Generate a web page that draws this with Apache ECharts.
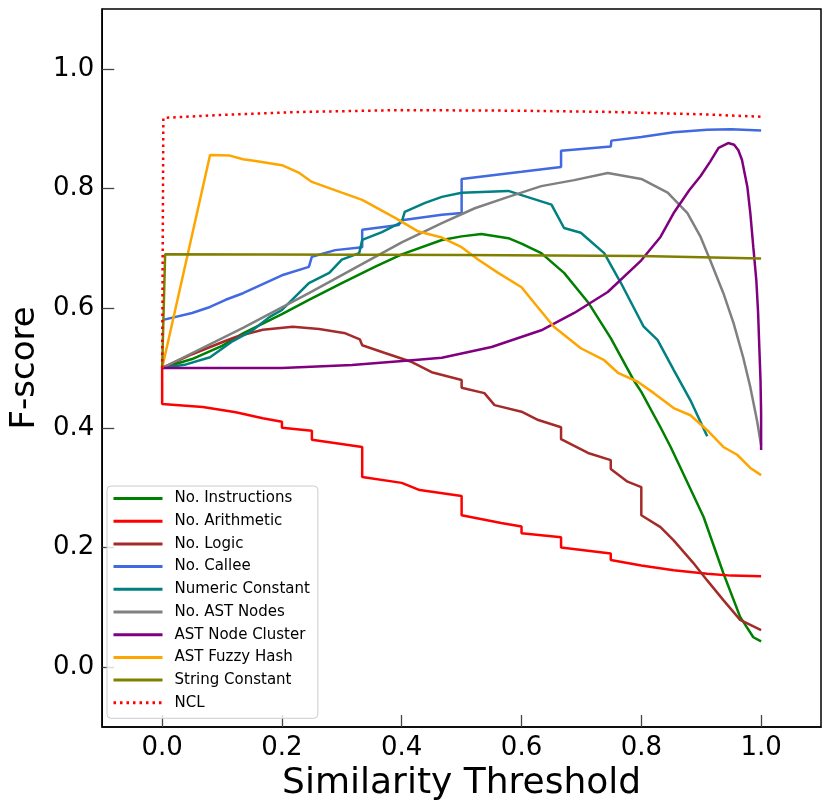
<!DOCTYPE html>
<html>
<head>
<meta charset="utf-8">
<script src="https://cdn.jsdelivr.net/npm/echarts@6/dist/echarts.min.js"></script>
<style>
  html, body { margin: 0; padding: 0; background: #fff; }
  #chart { width: 830px; height: 808px; }
</style>
</head>
<body>
<div id="chart"></div>
<script>
// [threshold, F-score]
const instructions = [[0,0.5],[0.05,0.515],[0.1,0.537],[0.135,0.558],[0.2,0.59],[0.245,0.614],[0.3,0.642],[0.355,0.669],[0.4,0.69],[0.467,0.714],[0.5,0.72],[0.533,0.724],[0.578,0.717],[0.6,0.708],[0.633,0.692],[0.671,0.659],[0.711,0.61],[0.749,0.55],[0.787,0.48],[0.8,0.46],[0.832,0.401],[0.849,0.368],[0.865,0.334],[0.904,0.251],[0.937,0.157],[0.965,0.084],[0.987,0.05],[1.0,0.043]];
const arithmetic = [[0,0.5],[0,0.44],[0.068,0.435],[0.123,0.426],[0.168,0.416],[0.2,0.41],[0.2,0.4],[0.25,0.395],[0.25,0.38],[0.334,0.368],[0.334,0.318],[0.4,0.308],[0.43,0.296],[0.5,0.286],[0.5,0.254],[0.566,0.241],[0.6,0.235],[0.6,0.224],[0.666,0.217],[0.666,0.2],[0.749,0.19],[0.749,0.179],[0.8,0.17],[0.854,0.162],[0.91,0.156],[0.95,0.153],[1.0,0.152]];
const logic = [[0,0.5],[0.05,0.523],[0.1,0.543],[0.123,0.552],[0.168,0.564],[0.218,0.569],[0.262,0.565],[0.306,0.558],[0.33,0.548],[0.334,0.538],[0.372,0.525],[0.417,0.51],[0.45,0.493],[0.5,0.48],[0.5,0.467],[0.538,0.458],[0.555,0.438],[0.6,0.427],[0.628,0.413],[0.666,0.401],[0.666,0.381],[0.711,0.358],[0.749,0.346],[0.749,0.331],[0.777,0.31],[0.8,0.301],[0.8,0.254],[0.832,0.234],[0.854,0.212],[0.887,0.174],[0.91,0.145],[0.937,0.112],[0.965,0.079],[1.0,0.062]];
const callee = [[0,0.58],[0.05,0.592],[0.08,0.602],[0.106,0.614],[0.135,0.625],[0.168,0.64],[0.2,0.655],[0.245,0.669],[0.25,0.686],[0.289,0.697],[0.334,0.702],[0.334,0.731],[0.395,0.739],[0.4,0.747],[0.467,0.756],[0.5,0.759],[0.5,0.816],[0.6,0.828],[0.666,0.836],[0.666,0.863],[0.749,0.87],[0.75,0.88],[0.8,0.886],[0.854,0.894],[0.91,0.898],[0.95,0.899],[1.0,0.897]];
const numericConst = [[0,0.5],[0.04,0.506],[0.08,0.518],[0.118,0.545],[0.151,0.563],[0.179,0.585],[0.2,0.597],[0.245,0.642],[0.279,0.659],[0.3,0.681],[0.329,0.692],[0.334,0.714],[0.367,0.727],[0.4,0.744],[0.405,0.761],[0.439,0.776],[0.467,0.786],[0.5,0.793],[0.578,0.796],[0.6,0.789],[0.65,0.773],[0.671,0.734],[0.699,0.726],[0.738,0.692],[0.766,0.642],[0.804,0.569],[0.827,0.547],[0.854,0.497],[0.882,0.446],[0.91,0.386]];
const astNodes = [[0,0.5],[0.135,0.567],[0.245,0.625],[0.4,0.71],[0.467,0.742],[0.522,0.767],[0.578,0.786],[0.633,0.804],[0.688,0.814],[0.744,0.826],[0.8,0.816],[0.844,0.793],[0.877,0.759],[0.899,0.719],[0.915,0.68],[0.937,0.625],[0.954,0.575],[0.97,0.518],[0.982,0.468],[0.993,0.413],[1.0,0.371]];
const nodeCluster = [[0,0.5],[0.1,0.5],[0.2,0.5],[0.317,0.505],[0.417,0.513],[0.467,0.517],[0.55,0.535],[0.633,0.563],[0.688,0.592],[0.744,0.627],[0.8,0.68],[0.832,0.719],[0.854,0.759],[0.88,0.797],[0.899,0.821],[0.915,0.845],[0.929,0.868],[0.945,0.876],[0.955,0.873],[0.962,0.864],[0.968,0.848],[0.977,0.803],[0.982,0.759],[0.987,0.702],[0.992,0.647],[0.995,0.592],[0.997,0.535],[0.999,0.48],[1.0,0.425],[1.0,0.363]];
const fuzzyHash = [[0,0.5],[0.08,0.856],[0.113,0.855],[0.135,0.849],[0.156,0.846],[0.2,0.839],[0.229,0.826],[0.25,0.811],[0.3,0.793],[0.334,0.781],[0.389,0.751],[0.428,0.728],[0.467,0.718],[0.5,0.702],[0.528,0.681],[0.561,0.659],[0.6,0.635],[0.621,0.609],[0.654,0.569],[0.699,0.533],[0.738,0.513],[0.761,0.492],[0.794,0.477],[0.821,0.458],[0.854,0.433],[0.882,0.421],[0.91,0.396],[0.937,0.368],[0.96,0.355],[0.982,0.333],[1.0,0.321]];
const stringConst = [[0,0.5],[0.005,0.69],[0.5,0.689],[0.8,0.687],[1.0,0.683]];
const ncl = [[0,0.5],[0.002,0.918],[0.1,0.923],[0.234,0.928],[0.4,0.931],[0.6,0.93],[0.744,0.928],[0.9,0.924],[1.0,0.92]];

const names = ['No. Instructions', 'No. Arithmetic', 'No. Logic', 'No. Callee', 'Numeric Constant',
  'No. AST Nodes', 'AST Node Cluster', 'AST Fuzzy Hash', 'String Constant', 'NCL'];
const colors = ['#008000', '#ff0000', '#a52a2a', '#4169e1', '#008080',
  '#808080', '#800080', '#ffa500', '#808000', '#ff0000'];
const allData = [instructions, arithmetic, logic, callee, numericConst,
  astNodes, nodeCluster, fuzzyHash, stringConst, ncl];

const font = 'DejaVu Sans';

function makeAxis(name, nameGap, nameSize) {
  return {
    type: 'value',
    min: -0.1,
    max: 1.1,
    splitNumber: 6,
    name: name,
    nameLocation: 'middle',
    nameGap: nameGap,
    nameTextStyle: { fontFamily: font, fontSize: nameSize, color: '#000' },
    axisLine: { show: true, onZero: false, lineStyle: { color: '#000', width: 1.5 } },
    axisTick: { show: true, inside: true, length: 12, lineStyle: { color: '#444', width: 1.3 } },
    axisLabel: {
      fontFamily: font, fontSize: 26, color: '#000', margin: 8,
      showMinLabel: false, showMaxLabel: false,
      formatter: (v) => v.toFixed(1)
    },
    splitLine: { show: false }
  };
}

const series = names.map((n, i) => ({
  name: n,
  type: 'line',
  symbol: 'none',
  data: allData[i],
  lineStyle: {
    color: colors[i],
    width: 2.5,
    type: n === 'NCL' ? [2.5, 4] : 'solid'
  },
  itemStyle: { color: colors[i] }
}));

const chart = echarts.init(document.getElementById('chart'));
chart.setOption({
  animation: false,
  backgroundColor: '#fff',
  grid: {
    left: 99, right: 9, top: 9, bottom: 81,
    show: true, borderColor: '#000', borderWidth: 1.5
  },
  xAxis: makeAxis('Similarity Threshold', 30, 36),
  yAxis: makeAxis('F-score', 58, 34),
  legend: {
    orient: 'vertical',
    left: 107,
    top: 486,
    itemWidth: 49,
    itemHeight: 15,
    itemGap: 7.7,
    padding: [5, 8, 8, 5],
    borderColor: '#ccc',
    borderWidth: 1,
    borderRadius: 4,
    backgroundColor: 'rgba(255,255,255,0.8)',
    itemStyle: { opacity: 0, borderWidth: 0 },
    lineStyle: { width: 3 },
    textStyle: { fontFamily: font, fontSize: 15, color: '#000', padding: [0, 0, 0, 7] },
    data: names
  },
  series: series
});
</script>
</body>
</html>
